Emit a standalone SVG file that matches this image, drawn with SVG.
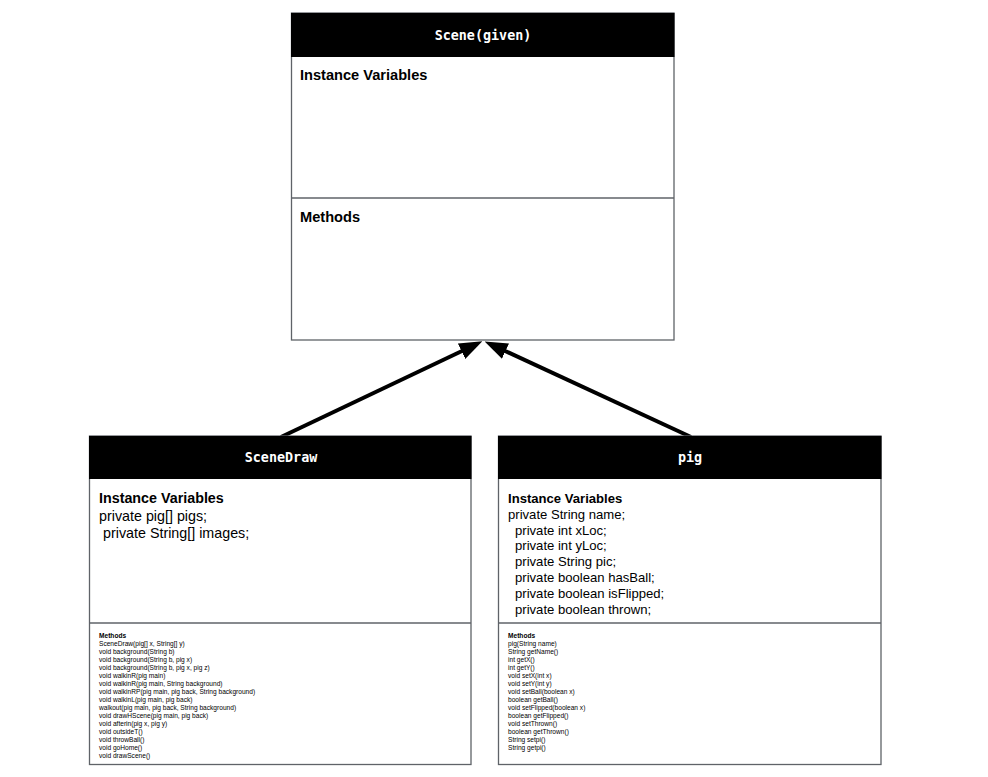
<svg xmlns="http://www.w3.org/2000/svg" width="988" height="777" viewBox="0 0 988 777">
<style>
.box{fill:#ffffff;stroke:#5f6368;stroke-width:1.3}
.hdr{fill:#000000}
.div{stroke:#5f6368;stroke-width:1.3}
.title{font-family:"DejaVu Sans Mono","Liberation Mono",monospace;font-size:13.4px;font-weight:bold;fill:#ffffff;text-anchor:middle}
.iv{font-family:"Liberation Sans",Arial,sans-serif;font-weight:bold;fill:#000000}
.t{font-family:"Liberation Sans",Arial,sans-serif;fill:#000000}
.sm{font-family:"Liberation Sans",Arial,sans-serif;font-size:6.6px;fill:#000000}
.smb{font-family:"Liberation Sans",Arial,sans-serif;font-size:6.6px;font-weight:bold;fill:#000000}
.conn{stroke:#000000;stroke-width:4;fill:none}
</style>
<defs>
<marker id="arrow" markerUnits="userSpaceOnUse" markerWidth="23" markerHeight="18" viewBox="0 -9 23 18" refX="1" refY="0" orient="auto">
<path d="M0,-8.5 L23,0 L0,8.5 z" fill="#000000"/>
</marker>
</defs>
<rect width="988" height="777" fill="#ffffff"/>
<g id="connectors">
<line class="conn" x1="281" y1="437" x2="462.5" y2="350.8" marker-end="url(#arrow)"/>
<line class="conn" x1="691" y1="437" x2="504.6" y2="350.7" marker-end="url(#arrow)"/>
</g>
<g id="scene">
<rect class="box" x="291.5" y="13" width="382.5" height="327"/>
<rect class="hdr" x="291" y="13" width="383.5" height="44"/>
<line class="div" x1="291.5" y1="198" x2="674" y2="198"/>
<text class="title" x="483" y="39.5">Scene(given)</text>
<text class="iv" x="300" y="79.5" font-size="14.6">Instance Variables</text>
<text class="iv" x="300" y="221.5" font-size="14.6">Methods</text>
</g>
<g id="scenedraw">
<rect class="box" x="89.5" y="436" width="381.5" height="328.5"/>
<rect class="hdr" x="89" y="436" width="382.5" height="43"/>
<line class="div" x1="89.5" y1="623" x2="471" y2="623"/>
<text class="title" x="281" y="462">SceneDraw</text>
<text class="iv" x="99" y="503" font-size="14.3">Instance Variables</text>
<text class="t" x="99" y="520.5" font-size="14.3">private pig[] pigs;</text>
<text class="t" x="103" y="538" font-size="14.3">private String[] images;</text>
<text class="smb" x="99" y="637.5">Methods</text>
<text class="sm" x="99" y="645.5">SceneDraw(pig[] x, String[] y)</text>
<text class="sm" x="99" y="653.5">void background(String b)</text>
<text class="sm" x="99" y="661.5">void background(String b, pig x)</text>
<text class="sm" x="99" y="669.5">void background(String b, pig x, pig z)</text>
<text class="sm" x="99" y="677.5">void walkinR(pig main)</text>
<text class="sm" x="99" y="685.5">void walkinR(pig main, String background)</text>
<text class="sm" x="99" y="693.5">void walkinRP(pig main, pig back, String background)</text>
<text class="sm" x="99" y="701.5">void walkinL(pig main, pig back)</text>
<text class="sm" x="99" y="709.5">walkout(pig main, pig back, String background)</text>
<text class="sm" x="99" y="717.5">void drawHScene(pig main, pig back)</text>
<text class="sm" x="99" y="725.5">void afterin(pig x, pig y)</text>
<text class="sm" x="99" y="733.5">void outsideT()</text>
<text class="sm" x="99" y="741.5">void throwBall()</text>
<text class="sm" x="99" y="749.5">void goHome()</text>
<text class="sm" x="99" y="757.5">void drawScene()</text>
</g>
<g id="pig">
<rect class="box" x="498.5" y="436" width="382.5" height="328.5"/>
<rect class="hdr" x="498" y="436" width="383.5" height="43"/>
<line class="div" x1="498.5" y1="623" x2="881" y2="623"/>
<text class="title" x="690" y="462">pig</text>
<text class="iv" x="508" y="503" font-size="13.1">Instance Variables</text>
<text class="t" x="508" y="518.8" font-size="13.1">private String name;</text>
<text class="t" x="515" y="534.6" font-size="13.1">private int xLoc;</text>
<text class="t" x="515" y="550.4" font-size="13.1">private int yLoc;</text>
<text class="t" x="515" y="566.2" font-size="13.1">private String pic;</text>
<text class="t" x="515" y="582" font-size="13.1">private boolean hasBall;</text>
<text class="t" x="515" y="597.8" font-size="13.1">private boolean isFlipped;</text>
<text class="t" x="515" y="613.6" font-size="13.1">private boolean thrown;</text>
<text class="smb" x="508" y="637.5">Methods</text>
<text class="sm" x="508" y="645.5">pig(String name)</text>
<text class="sm" x="508" y="653.5">String getName()</text>
<text class="sm" x="508" y="661.5">int getX()</text>
<text class="sm" x="508" y="669.5">int getY()</text>
<text class="sm" x="508" y="677.5">void setX(int x)</text>
<text class="sm" x="508" y="685.5">void setY(int y)</text>
<text class="sm" x="508" y="693.5">void setBall(boolean x)</text>
<text class="sm" x="508" y="701.5">boolean getBall()</text>
<text class="sm" x="508" y="709.5">void setFlipped(boolean x)</text>
<text class="sm" x="508" y="717.5">boolean getFlipped()</text>
<text class="sm" x="508" y="725.5">void setThrown()</text>
<text class="sm" x="508" y="733.5">boolean getThrown()</text>
<text class="sm" x="508" y="741.5">String setpi()</text>
<text class="sm" x="508" y="749.5">String getpi()</text>
</g>
</svg>
